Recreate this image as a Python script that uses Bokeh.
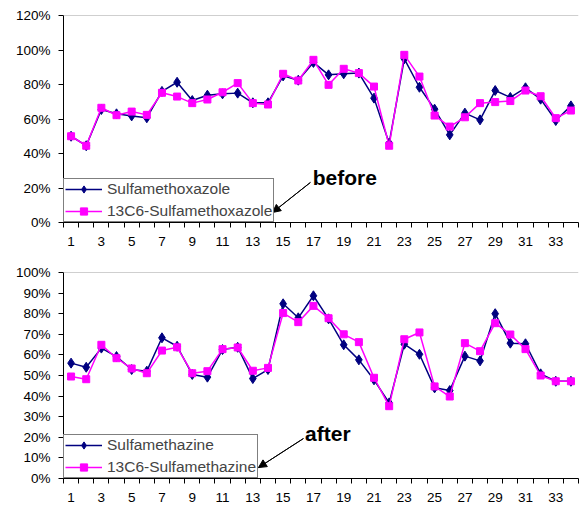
from bokeh.plotting import figure
from bokeh.layouts import column
from bokeh.models import (Range1d, FixedTicker, Legend, LegendItem, Arrow, NormalHead,
                          Label, Span, CustomJSTickFormatter)
from bokeh.embed import file_html
from bokeh.resources import INLINE

# ---------------- data ----------------
samples = list(range(1, 35))
x_tick_labels = samples[::2]

sulfamethoxazole = [50, 44.5, 65.5, 63, 61.8, 60.7, 76, 81.3, 70.7, 73.8, 74.6, 75, 69.4, 69.4,
                    85, 82.5, 92.8, 85.6, 86.2, 86.6, 72.1, 46, 94.9, 78.4, 65.7, 50.8, 63.4,
                    59.5, 76.5, 72.5, 78.1, 71.5, 59.1, 67.6]
c13_sulfamethoxazole = [50, 44.5, 66.5, 62.2, 64.3, 62.4, 75.2, 73, 69.2, 71.3, 75.5, 80.8, 69.2,
                        68.4, 86.2, 82.3, 94.3, 79.8, 89.1, 86.6, 78.8, 44.5, 97.2, 84.6, 62,
                        55.6, 61, 69.2, 69.8, 70.4, 76.5, 73.2, 60.5, 64.9]

sulfamethazine = [56, 54, 63.3, 59.2, 52.9, 52.1, 68.3, 64.2, 50.5, 49.2, 62.6, 63.7, 48.5, 52.9,
                  84.8, 78, 88.7, 77.5, 64.9, 57.6, 47.9, 36.7, 65.2, 60.3, 44, 42.7, 59.4, 57.1,
                  80, 65.7, 65.4, 50.8, 47.2, 47.2]
c13_sulfamethazine = [49.5, 48.2, 64.9, 58.4, 53.4, 51.1, 62.1, 63.7, 51.1, 52.1, 62.8, 63.6, 52.3,
                      53.7, 80.3, 75.9, 83.8, 77.8, 70, 66.2, 48.9, 35.1, 67.6, 70.9, 44.7, 39.8,
                      65.7, 61.8, 75.4, 69.9, 62.8, 50, 47.2, 47.2]

top_y_ticks = [0, 20, 40, 60, 80, 100, 120]
bottom_y_ticks = [0, 10, 20, 30, 40, 50, 60, 70, 80, 90, 100]

FONT = "Liberation Sans"
NAVY = "#000080"
MAGENTA = "#FF00FF"


def make_panel(s1, s2, name1, name2, yticks, height, border_top, border_bottom,
               note, note_xy, arrow_start, arrow_end):
    ymax = yticks[-1]
    p = figure(width=579, height=height, output_backend="svg", toolbar_location=None,
               x_range=Range1d(0.5, 34.5), y_range=Range1d(0, ymax),
               min_border_left=63, min_border_right=1, min_border_top=border_top,
               min_border_bottom=border_bottom)
    p.outline_line_color = None
    p.xgrid.visible = False
    p.ygrid.visible = False
    p.background_fill_color = "white"
    p.border_fill_color = "white"

    p.add_layout(Span(location=ymax, dimension="width", line_color="#A0A0A0", line_width=1))

    r1l = p.line(samples, s1, line_color=NAVY, line_width=1.5)
    r1m = p.scatter(samples, s1, marker="diamond", size=10, fill_color=NAVY, line_color=NAVY)
    r2l = p.line(samples, s2, line_color=MAGENTA, line_width=1.5)
    r2m = p.scatter(samples, s2, marker="square", size=7, fill_color=MAGENTA, line_color=MAGENTA)

    # x axis
    xa = p.xaxis[0]
    xa.ticker = FixedTicker(ticks=x_tick_labels, minor_ticks=[i + 0.5 for i in range(0, 35)])
    xa.major_tick_out = 0
    xa.major_tick_in = 0
    xa.minor_tick_out = 5
    xa.minor_tick_in = 0
    xa.minor_tick_line_color = "black"
    xa.axis_line_color = "black"
    xa.major_label_text_font = FONT
    xa.major_label_text_font_size = "13.5px"
    xa.major_label_text_color = "black"
    xa.major_label_standoff = 9

    # y axis
    ya = p.yaxis[0]
    ya.ticker = FixedTicker(ticks=yticks, minor_ticks=[])
    ya.formatter = CustomJSTickFormatter(code="return tick.toFixed(0) + '%';")
    ya.major_tick_out = 5
    ya.major_tick_in = 0
    ya.major_tick_line_color = "black"
    ya.axis_line_color = "black"
    ya.major_label_text_font = FONT
    ya.major_label_text_font_size = "13.5px"
    ya.major_label_text_color = "black"
    ya.major_label_standoff = 8

    legend = Legend(items=[LegendItem(label=name1, renderers=[r1l, r1m]),
                           LegendItem(label=name2, renderers=[r2l, r2m])],
                    location=(0, 0), margin=0, padding=1, spacing=4,
                    glyph_width=37, glyph_height=18, label_height=18, label_standoff=5,
                    label_text_font=FONT, label_text_font_size="15.5px",
                    border_line_color="black", border_line_width=1,
                    background_fill_color="white", background_fill_alpha=1)
    p.add_layout(legend)

    # annotation arrow (body + head), drawn above the legend
    p.segment(x0=[arrow_start[0]], y0=[arrow_start[1]], x1=[arrow_end[0]], y1=[arrow_end[1]],
              line_color="black", line_width=1, level="overlay")
    p.add_layout(Arrow(end=NormalHead(size=8, fill_color="black", line_color="black"),
                       x_start=arrow_start[0], y_start=arrow_start[1],
                       x_end=arrow_end[0], y_end=arrow_end[1],
                       line_color="black", line_width=1, level="overlay"))
    p.add_layout(Label(x=note_xy[0], y=note_xy[1], text=note, text_font=FONT,
                       text_font_style="bold", text_font_size="21px",
                       text_baseline="middle", text_color="black"))
    return p


p1 = make_panel(sulfamethoxazole, c13_sulfamethoxazole, "Sulfamethoxazole",
                "13C6-Sulfamethoxazole", top_y_ticks, 250, 15, 28,
                "before", (16.95, 26.0), (16.8, 23.2), (14.3, 5.8))
p2 = make_panel(sulfamethazine, c13_sulfamethazine, "Sulfamethazine",
                "13C6-Sulfamethazine", bottom_y_ticks, 254, 22, 26,
                "after", (16.45, 21.8), (16.34, 19.4), (13.37, 5.3))

layout = column(p1, p2, spacing=0)
open("out.html", "w").write(file_html(layout, INLINE))
